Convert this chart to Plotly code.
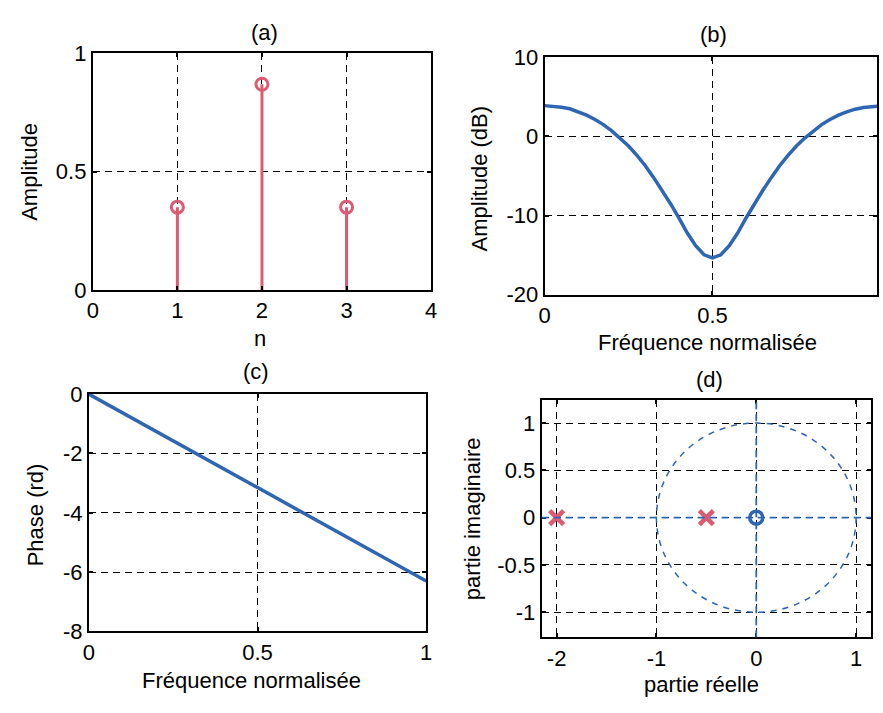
import plotly.graph_objects as go

# ---------------- data ----------------
# (a) impulse response
n_vals = [1, 2, 3]
h_vals = [0.35, 0.87, 0.35]

# (b) amplitude response (dB) vs normalised frequency
freq_b = [0.0, 0.025, 0.05, 0.075, 0.10, 0.125, 0.15, 0.175, 0.20, 0.225,
          0.25, 0.275, 0.30, 0.325, 0.35, 0.375, 0.40, 0.425, 0.45, 0.475,
          0.50, 0.525, 0.55, 0.575, 0.60, 0.625, 0.65, 0.675, 0.70, 0.725,
          0.75, 0.775, 0.80, 0.825, 0.85, 0.875, 0.90, 0.925, 0.95, 0.975, 1.00]
amp_db = [3.9, 3.85, 3.7, 3.5, 3.1, 2.7, 2.15, 1.5, 0.7, -0.2,
          -1.2, -2.4, -3.7, -5.2, -6.8, -8.5, -10.3, -12.2, -13.8, -14.95,
          -15.35, -14.95, -13.8, -12.2, -10.3, -8.5, -6.8, -5.2, -3.7, -2.4,
          -1.2, -0.2, 0.7, 1.5, 2.15, 2.7, 3.1, 3.45, 3.65, 3.8, 3.85]

# (c) phase (rd) vs normalised frequency
freq_c = [0.0, 0.25, 0.5, 0.75, 1.0]
phase_rd = [0.0, -1.57, -3.14, -4.71, -6.3]

# (d) pole/zero plot
cross_re = [-2.0, -0.5]
cross_im = [0.0, 0.0]
circ_re = [0.0]
circ_im = [0.0]
unit_radius = 1.0

# tick labels
a_xticks = [0, 1, 2, 3, 4]
a_yticks = [0, 0.5, 1]
a_yticktext = ["0", "0.5", "1"]
b_xticks = [0, 0.5, 1]
b_xticktext = ["0", "0.5", "1"]
b_yticks = [-20, -10, 0, 10]
b_yticktext = ["-20", "-10", "0", "10"]
c_xticks = [0, 0.5, 1]
c_xticktext = ["0", "0.5", "1"]
c_yticks = [-8, -6, -4, -2, 0]
c_yticktext = ["-8", "-6", "-4", "-2", "0"]
d_xticks = [-2, -1, 0, 1]
d_xticktext = ["-2", "-1", "0", "1"]
d_yticks = [-1, -0.5, 0, 0.5, 1]
d_yticktext = ["-1", "-0.5", "0", "0.5", "1"]

RED = "#dc5a72"
BLUE = "#2f66b3"
FONT = "Liberation Sans, Arial, sans-serif"
DASH = "7px,5px"

fig = go.Figure()

# (a) stems
stem_x, stem_y = [], []
for nv, hv in zip(n_vals, h_vals):
    stem_x += [nv, nv, None]
    stem_y += [0, hv, None]
fig.add_trace(go.Scatter(x=stem_x, y=stem_y, mode="lines",
                         line=dict(color=RED, width=3), xaxis="x", yaxis="y",
                         showlegend=False, hoverinfo="skip"))
fig.add_trace(go.Scatter(x=n_vals, y=h_vals, mode="markers",
                         marker=dict(symbol="circle-open", size=12, color=RED,
                                     line=dict(width=3, color=RED)),
                         xaxis="x", yaxis="y", showlegend=False))

# (b)
fig.add_trace(go.Scatter(x=freq_b, y=amp_db, mode="lines",
                         line=dict(color=BLUE, width=3.5), xaxis="x2", yaxis="y2",
                         showlegend=False))

# (c)
fig.add_trace(go.Scatter(x=freq_c, y=phase_rd, mode="lines",
                         line=dict(color=BLUE, width=3.5), xaxis="x3", yaxis="y3",
                         showlegend=False))

# (d) unit circle + axes lines (shapes), then markers
fig.add_shape(type="circle", xref="x4", yref="y4",
              x0=-unit_radius, y0=-unit_radius, x1=unit_radius, y1=unit_radius,
              line=dict(color=BLUE, width=1.5, dash="6px,6px"))
fig.add_shape(type="line", xref="x4 domain", yref="y4", x0=0, x1=1, y0=0, y1=0,
              line=dict(color=BLUE, width=1.8, dash=DASH))
fig.add_shape(type="line", xref="x4", yref="y4 domain", x0=0, x1=0, y0=0, y1=1,
              line=dict(color=BLUE, width=1.8, dash=DASH))
fig.add_trace(go.Scatter(x=cross_re, y=cross_im, mode="markers",
                         marker=dict(symbol="x-thin-open", size=14, color=RED,
                                     line=dict(width=4.5, color=RED)),
                         xaxis="x4", yaxis="y4", showlegend=False))
fig.add_trace(go.Scatter(x=circ_re, y=circ_im, mode="markers",
                         marker=dict(symbol="circle-open", size=13, color=BLUE,
                                     line=dict(width=3.5, color=BLUE)),
                         xaxis="x4", yaxis="y4", showlegend=False))

W, H = 883, 713


def px(xp):
    return xp / W


def py(yp):
    return 1 - yp / H


axis_common = dict(showline=True, linecolor="black", linewidth=2, mirror="allticks",
                   ticks="inside", ticklen=4, tickcolor="black", tickwidth=1.5,
                   showgrid=True, gridcolor="black", gridwidth=1.3, griddash=DASH,
                   zeroline=False, tickfont=dict(size=22, color="black", family=FONT))

fig.update_layout(
    width=W, height=H, margin=dict(l=0, r=0, t=0, b=0),
    paper_bgcolor="white", plot_bgcolor="white",
    font=dict(family=FONT, size=22, color="black"),
    xaxis=dict(axis_common, domain=[px(88), px(431)], range=[0, 4],
               tickvals=a_xticks, anchor="y"),
    yaxis=dict(axis_common, domain=[py(288), py(43)], range=[0, 1],
               tickvals=a_yticks, ticktext=a_yticktext, anchor="x"),
    xaxis2=dict(axis_common, domain=[px(546), 1.0], range=[0, 0.99],
                tickvals=b_xticks, ticktext=b_xticktext, anchor="y2"),
    yaxis2=dict(axis_common, domain=[py(293), py(47)], range=[-20, 10],
                tickvals=b_yticks, ticktext=b_yticktext, anchor="x2"),
    xaxis3=dict(axis_common, domain=[px(84), px(426)], range=[0, 1],
                tickvals=c_xticks, ticktext=c_xticktext, anchor="y3"),
    yaxis3=dict(axis_common, domain=[py(642), py(396)], range=[-8, 0],
                tickvals=c_yticks, ticktext=c_yticktext, anchor="x3"),
    xaxis4=dict(axis_common, domain=[px(543), px(877)], range=[-2.15, 1.15],
                tickvals=d_xticks, ticktext=d_xticktext, anchor="y4"),
    yaxis4=dict(axis_common, domain=[py(648), py(402)], range=[-1.265, 1.245],
                tickvals=d_yticks, ticktext=d_yticktext, anchor="x4"),
)

labels = [
    ("(a)", 262, 21, 0), ("(b)", 717, 23, 0), ("(c)", 253, 373, 0), ("(d)", 713, 381, 0),
    ("n", 257, 338, 0), ("Fréquence normalisée", 711, 343, 0),
    ("Fréquence normalisée", 249, 693, 0), ("partie réelle", 705, 697, 0),
    ("Amplitude", 24, 166, -90), ("Amplitude (dB)", 480, 172, -90),
    ("Phase (rd)", 30, 521, -90), ("partie imaginaire", 473, 525, -90),
]
for txt, x, y, ang in labels:
    fig.add_annotation(text=txt, x=px(x), y=py(y), xref="paper", yref="paper",
                       xanchor="center", yanchor="middle", showarrow=False,
                       textangle=ang, font=dict(size=22, family=FONT, color="black"))

fig.write_html("out.html")
